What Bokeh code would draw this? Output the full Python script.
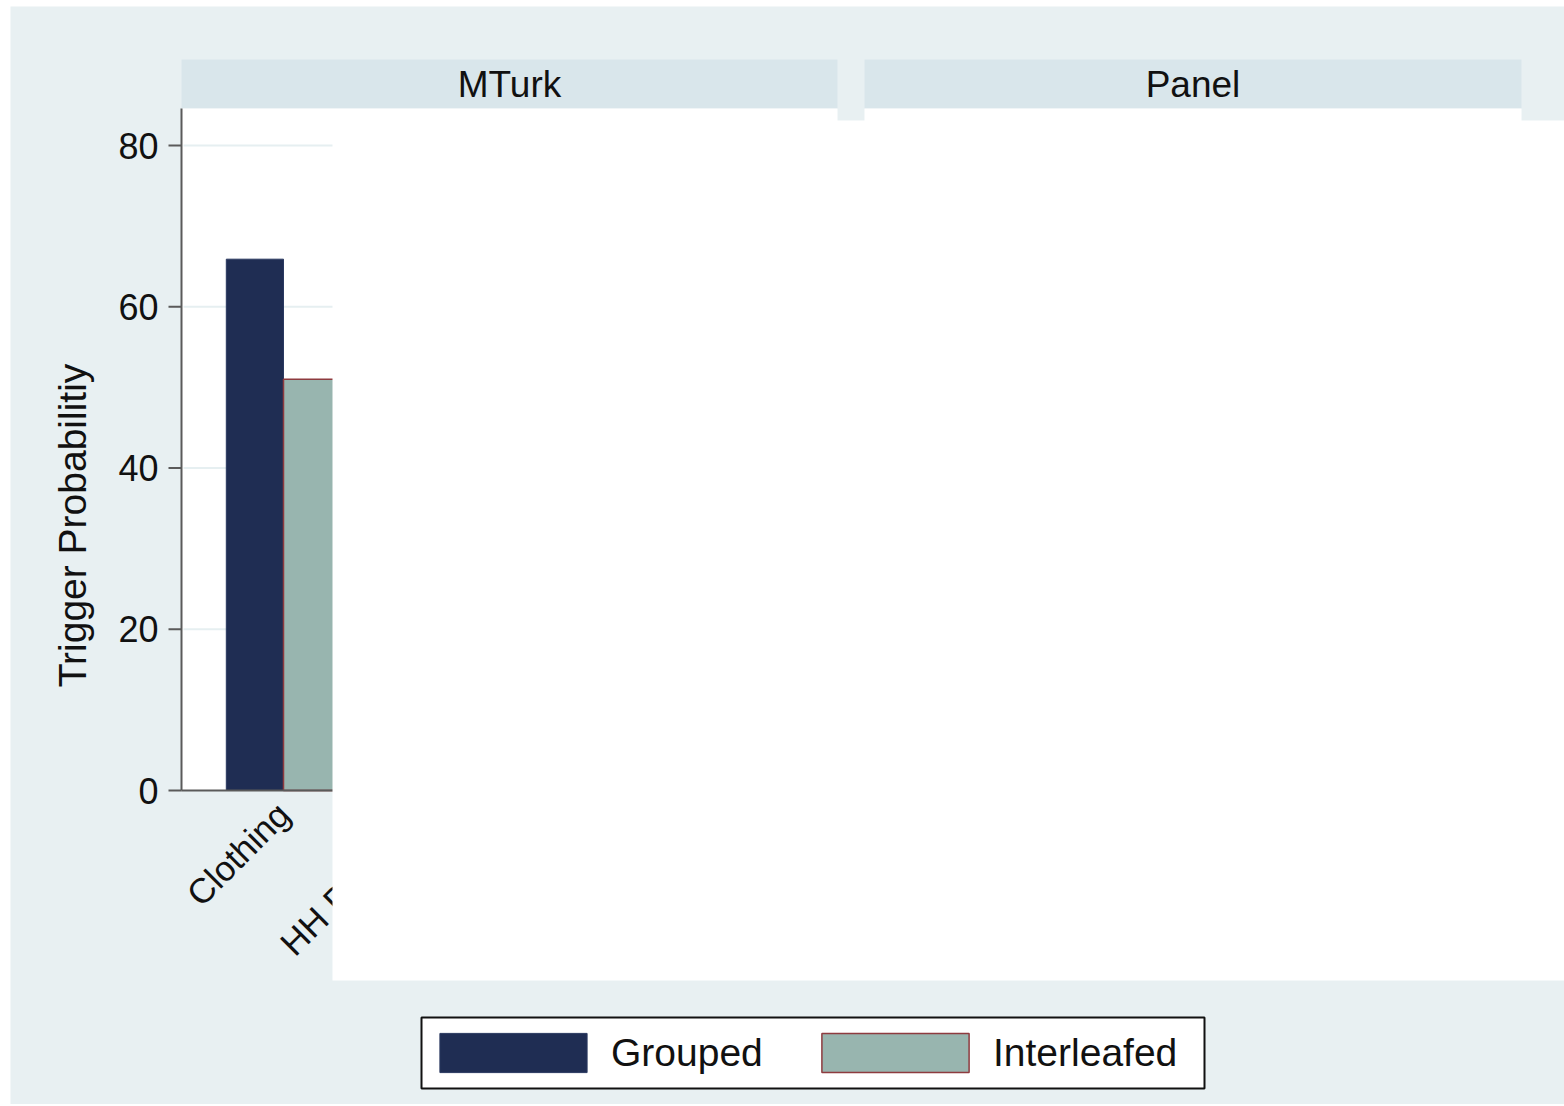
import math
from bokeh.plotting import figure
from bokeh.models import Range1d, Legend, LegendItem, ColumnDataSource
from bokeh.core.properties import value
from bokeh.transform import dodge
from bokeh.embed import file_html
from bokeh.resources import INLINE

# ---------------- data ----------------
categories = ["Clothing", "HH Products"]
grouped = [65.9, float("nan")]        # later categories are hidden in the reference
interleafed = [51.0, float("nan")]
facets = ["MTurk", "Panel"]
series = ["Grouped", "Interleafed"]
y_ticks = [0, 20, 40, 60, 80]
y_title = "Trigger Probabilitiy"

# ---------------- styling / geometry ----------------
FONT = "Liberation Sans"
BG = "#E8F0F2"
HDR = "#D9E6EB"
NAVY = "#1F2D53"
SAGE = "#98B5AF"
MAROON = "#8E3B3F"
AXIS = "#5A5A5A"
GRID = "#E6EFF1"
TXT = "#111111"

W, H = 1564, 1104
FL, FR, FT, FB = 181, 837, 108, 790      # MTurk plot region (px)
PL, PR = 864, 1521                       # Panel plot region (px)
CAT_PX = 143                             # px per category step
FIRST_C = 283                            # px of first category centre
PPU = (FB - 145) / 80.0                  # px per y unit


def dx(px):
    return (px - FIRST_C) / CAT_PX


def dy(py):
    return (FB - py) / PPU


p = figure(width=W, height=H, min_border=0,
           x_range=Range1d(dx(0), dx(W)), y_range=Range1d(dy(H), dy(0)),
           x_axis_location=None, y_axis_location=None,
           output_backend="svg", toolbar_location=None,
           border_fill_color="white", background_fill_color="white",
           outline_line_color=None)
p.xgrid.visible = False
p.ygrid.visible = False

# outer graph background
p.quad(left=dx(10), right=dx(W), top=dy(6), bottom=dy(H), fill_color=BG, line_color=None)

# facet headers + plot regions
for i, (l, r) in enumerate([(FL, FR), (PL, PR)]):
    p.quad(left=dx(l), right=dx(r), top=dy(59), bottom=dy(FT), fill_color=HDR, line_color=None)
    p.quad(left=dx(l), right=dx(r), top=dy(FT), bottom=dy(FB), fill_color="white", line_color=None)
    p.text(x=[dx((l + r) / 2)], y=[dy(84)], text=[facets[i]], text_align="center",
           text_baseline="middle", text_font=value(FONT), text_font_size=value("37px"),
           text_color=TXT)

# grid lines
grid_ticks = [t for t in y_ticks if t > 0]
p.segment(x0=dx(FL + 2), x1=dx(FR), y0=grid_ticks, y1=grid_ticks,
          line_color=GRID, line_width=2)

# bars
src = ColumnDataSource(dict(x=list(range(len(categories))),
                            grouped=grouped, interleafed=interleafed))
r1 = p.vbar(x=dodge("x", -0.2, range=p.x_range), top="grouped", bottom=0, width=0.4,
            source=src, fill_color=NAVY, line_color="#2A3960", line_width=1)
r2 = p.vbar(x=dodge("x", 0.2, range=p.x_range), top="interleafed", bottom=0, width=0.4,
            source=src, fill_color=SAGE, line_color=MAROON, line_width=1.5)

# y axis
p.segment(x0=[dx(FL)], x1=[dx(FL)], y0=[0], y1=[dy(FT)], line_color=AXIS, line_width=2)
p.segment(x0=dx(168), x1=dx(FL), y0=y_ticks, y1=y_ticks, line_color=AXIS, line_width=2)
p.text(x=dx(158), y=y_ticks, text=[str(t) for t in y_ticks], text_align="right",
       text_baseline="middle", text_font=value(FONT), text_font_size=value("36px"),
       text_color=TXT)

# x axis
p.segment(x0=[dx(FL)], x1=[dx(FR)], y0=[0], y1=[0], line_color=AXIS, line_width=2)
p.text(x=list(range(len(categories))), y=dy(808), text=categories, angle=math.pi / 4,
       text_align="right", text_baseline="middle", text_font=value(FONT),
       text_font_size=value("35px"), text_color=TXT)

# white block that covers most of the chart in the reference
p.quad(left=dx(332), right=dx(W), top=dy(120), bottom=dy(980), fill_color="white",
       line_color=None)

# y title
p.text(x=[dx(72)], y=[dy(525)], text=[y_title], angle=math.pi / 2, text_align="center",
       text_baseline="middle", text_font=value(FONT), text_font_size=value("39px"),
       text_color=TXT)

# legend frame
p.quad(left=dx(421), right=dx(1204), top=dy(1017), bottom=dy(1088), fill_color="white",
       line_color=TXT, line_width=2)

legend = Legend(items=[LegendItem(label=series[0], renderers=[r1]),
                       LegendItem(label=series[1], renderers=[r2])],
                orientation="horizontal", location=(421, H - 1088),
                glyph_width=184, glyph_height=49, label_standoff=6,
                label_width=192, label_height=71, spacing=0,
                padding=0, margin=0,
                label_text_font=FONT, label_text_font_size="39px",
                label_text_color=TXT,
                border_line_color=None,
                background_fill_color="white", background_fill_alpha=0)
p.add_layout(legend)

open("out.html", "w").write(file_html(p, INLINE))
